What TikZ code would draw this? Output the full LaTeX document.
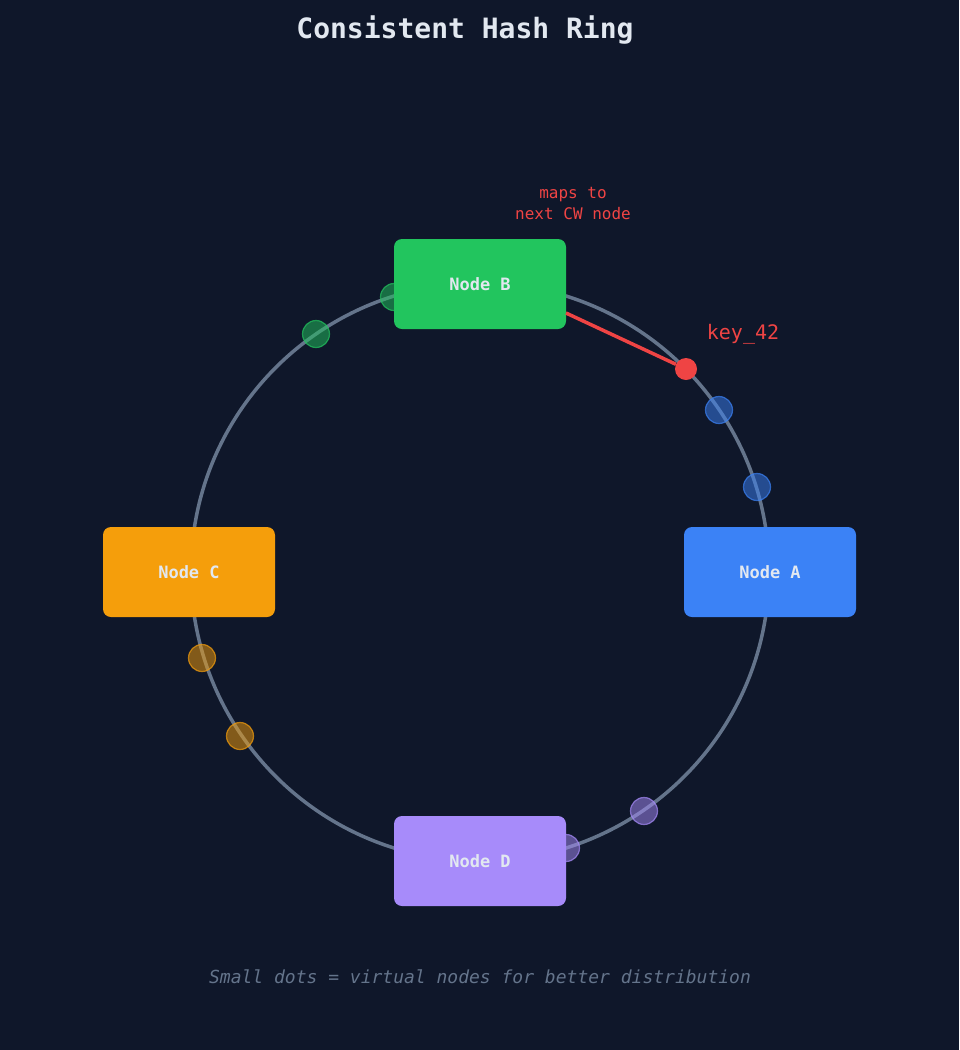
\documentclass[tikz,border=0pt]{standalone}
\usepackage{fontspec}
\setmonofont{DejaVu Sans Mono}
\definecolor{bg}{HTML}{0F172A}
\definecolor{ring}{HTML}{64748B}
\definecolor{cg}{HTML}{22C55E}
\definecolor{cb}{HTML}{3B82F6}
\definecolor{co}{HTML}{F59E0B}
\definecolor{cp}{HTML}{A78BFA}
\definecolor{cr}{HTML}{EF4444}
\definecolor{txt}{HTML}{E2E8F0}
\begin{document}
\begin{tikzpicture}[x=1pt,y=-1pt,
  srv/.style={rounded corners=8pt,minimum width=172pt,minimum height=90pt,inner sep=0pt,text=txt,font=\ttfamily\bfseries\fontsize{17}{20}\selectfont},
  vn/.style={circle,minimum size=27pt,inner sep=0pt,draw=#1,fill=#1,fill opacity=0.5,draw opacity=0.7,line width=1.2pt}]
\fill[bg] (0,0) rectangle (959,1050);
\node[text=txt,font=\ttfamily\bfseries\fontsize{28}{32}\selectfont] (title) at (465,30) {Consistent Hash Ring};
\draw[ring,line width=3.5pt] (480,572) circle (289);
\node[vn=cg] (g1) at (394,297) {};
\node[vn=cg] (g2) at (316,334) {};
\node[vn=cb] (b1) at (719,410) {};
\node[vn=cb] (b2) at (757,487) {};
\node[vn=co] (o1) at (202,658) {};
\node[vn=co] (o2) at (240,736) {};
\node[vn=cp] (p1) at (644,811) {};
\node[vn=cp] (p2) at (566,848) {};
\node[srv,fill=cg] (B) at (480,284) {Node B};
\node[srv,fill=cb] (A) at (770,572) {Node A};
\node[srv,fill=co] (C) at (189,572) {Node C};
\node[srv,fill=cp] (D) at (480,861) {Node D};
\node[circle,fill=cr,minimum size=22pt,inner sep=0pt] (key) at (686,369) {};
\coordinate (bc) at (566,313);
\draw[cr,line width=3.5pt] (bc) -- (key);
\node[text=cr,font=\ttfamily\fontsize{20}{24}\selectfont] (kl) at (743,334) {key\_42};
\node[text=cr,font=\ttfamily\fontsize{16}{21}\selectfont,align=center] (ml) at (573,203) {maps to\\next CW node};
\node[text=ring,font=\ttfamily\itshape\fontsize{18}{22}\selectfont] (foot) at (480,977) {Small dots = virtual nodes for better distribution};
\end{tikzpicture}
\end{document}
